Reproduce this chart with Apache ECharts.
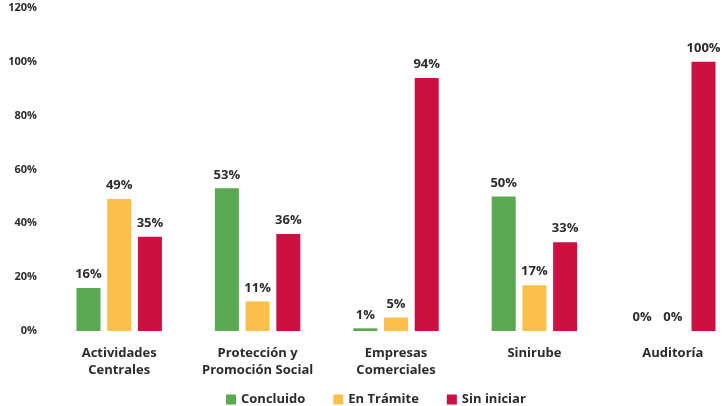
<!DOCTYPE html>
<html>
<head>
<meta charset="utf-8">
<script src="https://cdn.jsdelivr.net/npm/echarts@6/dist/echarts.min.js"></script>
<style>
  html, body { margin: 0; padding: 0; background: #fff; overflow: hidden; }
  #chart { width: 760px; height: 406px; }
</style>
</head>
<body>
<div id="chart"></div>
<script>
// Avance por unidad, en porcentaje
const categories = ['Actividades\nCentrales', 'Protección y\nPromoción Social', 'Empresas\nComerciales', 'Sinirube', 'Auditoría'];
const concluido = [16, 53, 1, 50, 0];
const enTramite = [49, 11, 5, 17, 0];
const sinIniciar = [35, 36, 94, 33, 100];
const yTicks = [0, 20, 40, 60, 80, 100, 120];

const font = '"Open Sans", Lato, sans-serif';
const textColor = '#2b2b2b';

function makeSeries(name, data, color) {
  return {
    name: name,
    type: 'bar',
    data: data,
    barWidth: 24,
    barGap: '28%',
    itemStyle: { color: color },
    label: {
      show: true,
      position: 'top',
      distance: 7,
      color: textColor,
      fontFamily: font,
      fontWeight: 'bold',
      fontSize: 13,
      formatter: p => p.value + '%'
    }
  };
}

const chart = echarts.init(document.getElementById('chart'));
chart.setOption({
  animation: false,
  textStyle: { fontFamily: font },
  grid: { left: 50, top: 8, width: 692, bottom: 75, containLabel: false },
  legend: {
    top: 388,
    left: 221,
    itemWidth: 10,
    itemHeight: 10,
    itemGap: 28,
    icon: 'rect',
    textStyle: { color: textColor, fontFamily: font, fontWeight: 'bold', fontSize: 13 },
    data: ['Concluido', 'En Trámite', 'Sin iniciar']
  },
  xAxis: {
    type: 'category',
    data: categories,
    axisLine: { show: false },
    axisTick: { show: false },
    axisLabel: {
      color: textColor,
      fontFamily: font,
      fontWeight: 'bold',
      fontSize: 13,
      lineHeight: 17,
      margin: 14,
      interval: 0
    }
  },
  yAxis: {
    type: 'value',
    min: yTicks[0],
    max: yTicks[yTicks.length - 1],
    interval: 20,
    splitLine: { show: false },
    axisLine: { show: false },
    axisTick: { show: false },
    axisLabel: {
      color: textColor,
      fontFamily: font,
      fontWeight: 'bold',
      fontSize: 11,
      margin: 13,
      formatter: v => v + '%'
    }
  },
  series: [
    makeSeries('Concluido', concluido, '#5aa852'),
    makeSeries('En Trámite', enTramite, '#fbbf4c'),
    makeSeries('Sin iniciar', sinIniciar, '#cc1142')
  ]
});
</script>
</body>
</html>
